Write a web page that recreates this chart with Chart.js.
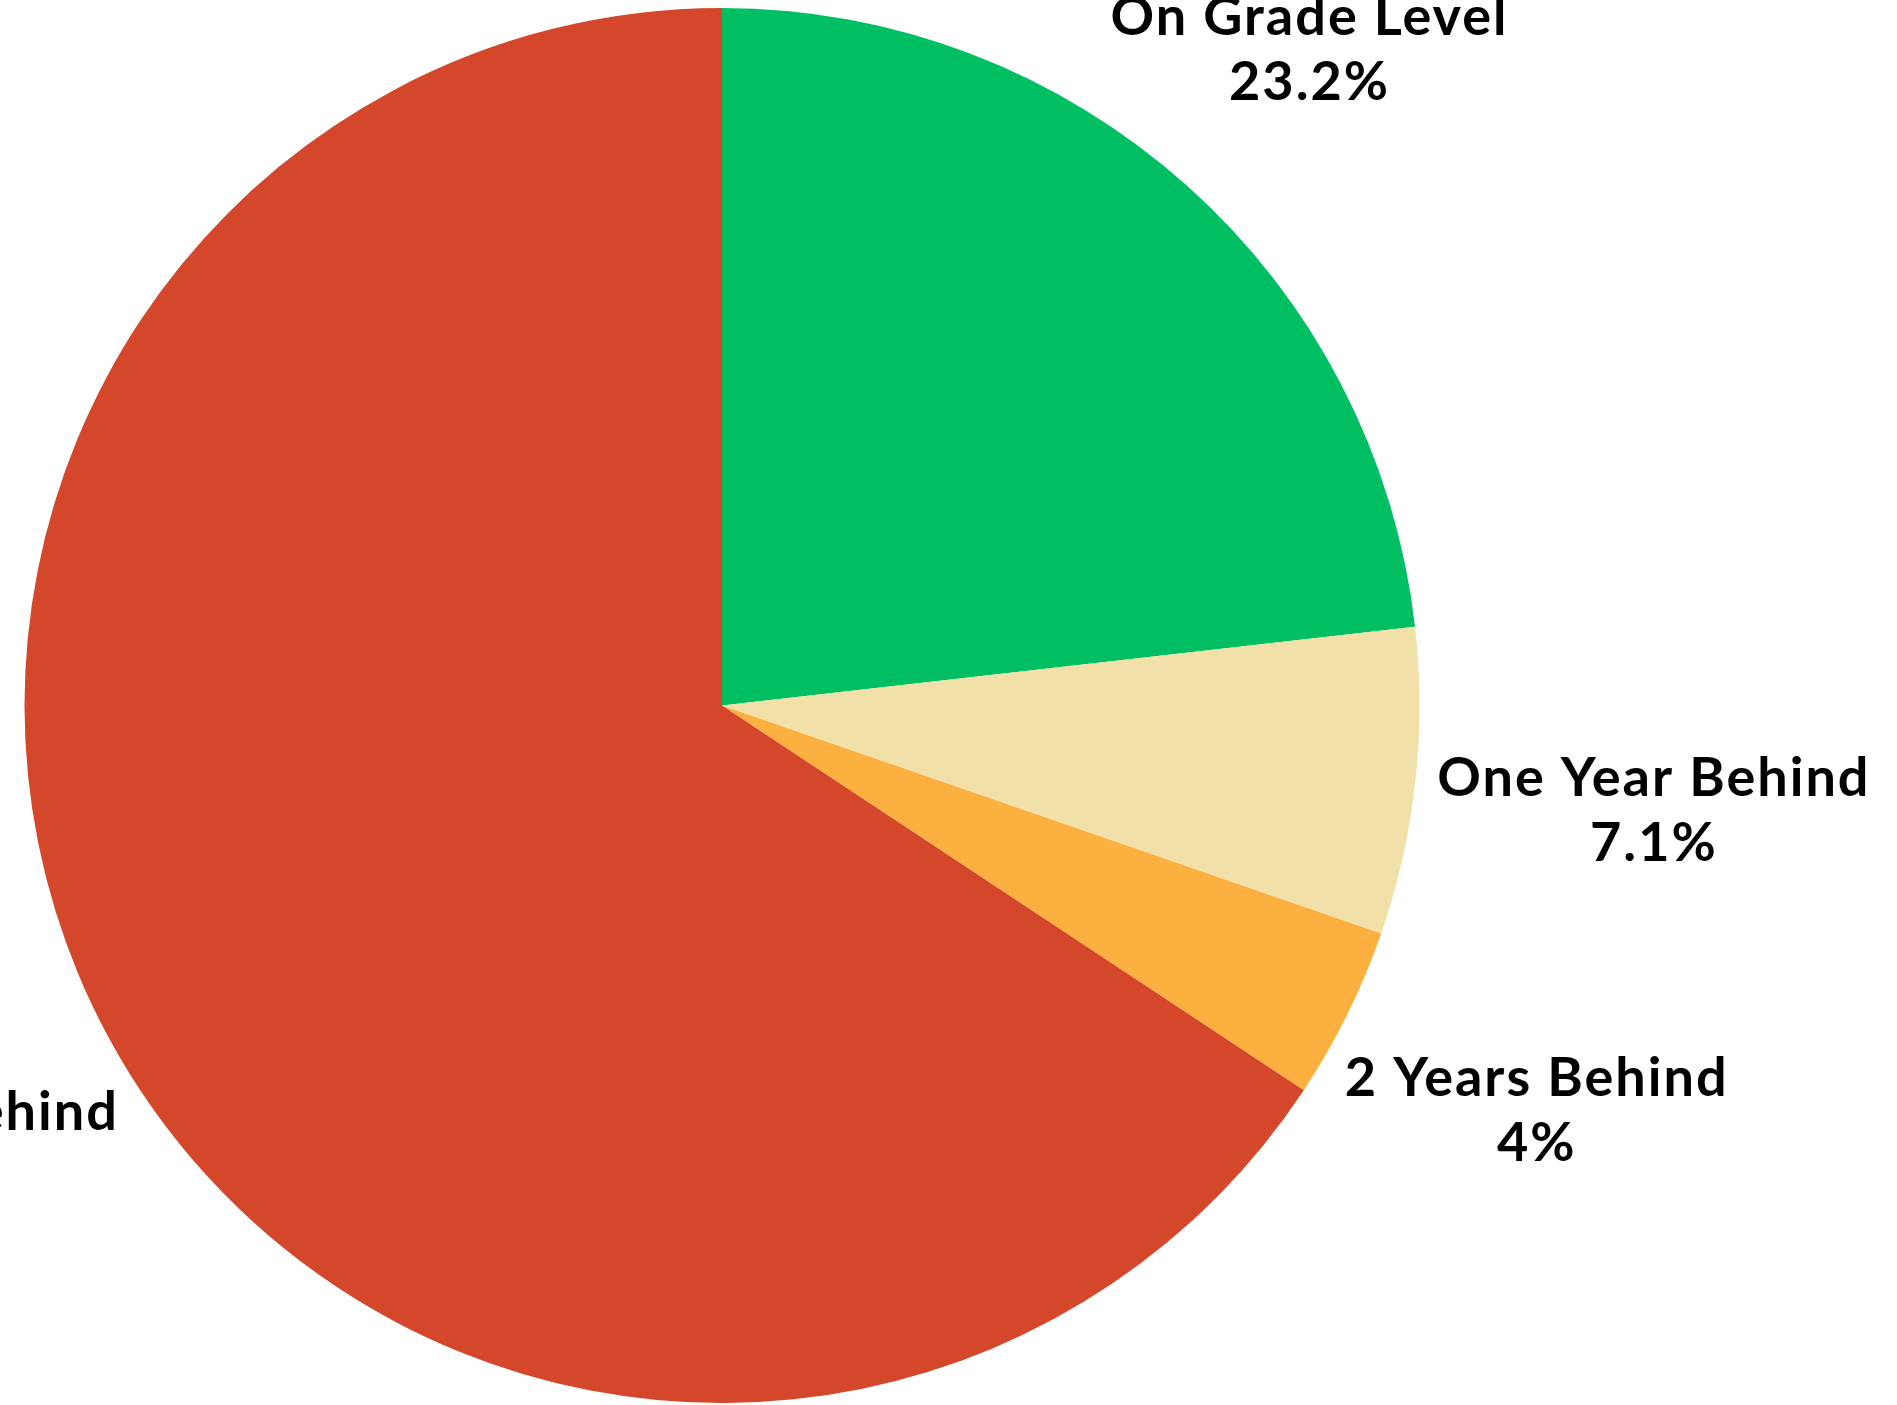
<!DOCTYPE html>
<html>
<head>
<meta charset="utf-8">
<script src="https://cdn.jsdelivr.net/npm/chart.js@4/dist/chart.umd.min.js"></script>
<style>
  html, body { margin: 0; padding: 0; background: #ffffff; }
  #wrap { width: 1897px; height: 1405px; position: relative; }
</style>
</head>
<body>
<div id="wrap"><canvas id="c"></canvas></div>
<script>
const categories = ["On Grade Level", "One Year Behind", "2 Years Behind", "3+ Years Behind"];
const values = [23.2, 7.1, 4, 65.7];
const colors = ["#00BF63", "#F2E0A9", "#FCB040", "#D4472A"];

const FONT_SIZE = 54;
const FONT = "bold " + FONT_SIZE + "px Lato";
const LINE_H = 65;
const OFFSET = 20;

const outsideLabels = {
  id: 'outsideLabels',
  afterDatasetsDraw(chart) {
    const ctx = chart.ctx;
    const meta = chart.getDatasetMeta(0);
    ctx.save();
    ctx.font = FONT;
    if ('letterSpacing' in ctx) ctx.letterSpacing = '2px';
    ctx.fillStyle = "#000000";
    ctx.textAlign = "center";
    ctx.textBaseline = "middle";
    meta.data.forEach((arc, i) => {
      const p = arc.getProps(['x', 'y', 'startAngle', 'endAngle', 'outerRadius'], true);
      const mid = (p.startAngle + p.endAngle) / 2;
      const dx = Math.cos(mid), dy = Math.sin(mid);
      const lines = [categories[i], values[i] + "%"];
      const w = Math.max(...lines.map(t => ctx.measureText(t).width));
      const h = LINE_H * lines.length;
      const dist = p.outerRadius + OFFSET + Math.abs(dx) * w / 2 + Math.abs(dy) * (h / 2 - 22);
      const cx = p.x + dx * dist;
      const cy = p.y + dy * dist + 3;
      lines.forEach((t, k) => {
        ctx.fillText(t, cx, cy + (k - (lines.length - 1) / 2) * LINE_H);
      });
    });
    ctx.restore();
  }
};

new Chart(document.getElementById('c'), {
  type: 'pie',
  data: {
    labels: categories,
    datasets: [{
      data: values,
      backgroundColor: colors,
      borderWidth: 0
    }]
  },
  options: {
    responsive: true,
    maintainAspectRatio: false,
    animation: false,
    layout: { padding: { left: 24, right: 477, top: 8, bottom: 2 } },
    plugins: {
      legend: { display: false },
      tooltip: { enabled: false }
    }
  },
  plugins: [outsideLabels]
});
</script>
</body>
</html>
